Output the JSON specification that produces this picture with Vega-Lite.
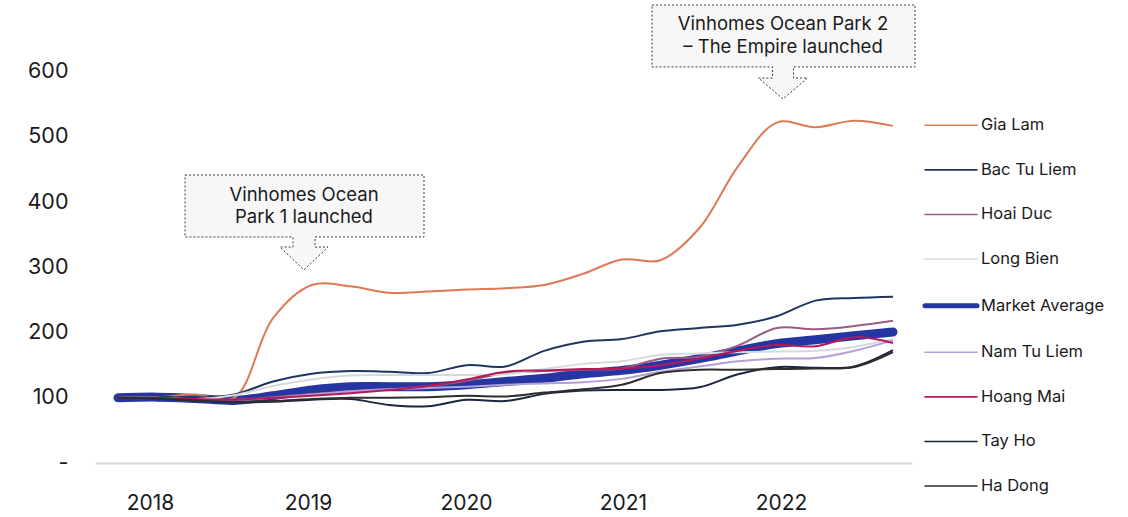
{
  "$schema": "https://vega.github.io/schema/vega-lite/v6.json",
  "width": 817,
  "height": 463,
  "autosize": {"type": "none"},
  "padding": {"left": 95, "top": 0, "right": 216, "bottom": 54},
  "background": "white",
  "config": {"view": {"stroke": null}, "font": "Inter"},
  "datasets": {
    "prices": [
      {"s":"Market Average","q":0,"v":100},{"s":"Market Average","q":1,"v":101},{"s":"Market Average","q":2,"v":99},{"s":"Market Average","q":3,"v":96},{"s":"Market Average","q":4,"v":103},{"s":"Market Average","q":5,"v":112},{"s":"Market Average","q":6,"v":117},{"s":"Market Average","q":7,"v":117},{"s":"Market Average","q":8,"v":117},{"s":"Market Average","q":9,"v":120},{"s":"Market Average","q":10,"v":125},{"s":"Market Average","q":11,"v":130},{"s":"Market Average","q":12,"v":137},{"s":"Market Average","q":13,"v":142},{"s":"Market Average","q":14,"v":150},{"s":"Market Average","q":15,"v":160},{"s":"Market Average","q":16,"v":172},{"s":"Market Average","q":17,"v":183},{"s":"Market Average","q":18,"v":189},{"s":"Market Average","q":19,"v":195},{"s":"Market Average","q":20,"v":201},
      {"s":"Gia Lam","q":0,"v":100},{"s":"Gia Lam","q":1,"v":101},{"s":"Gia Lam","q":2,"v":105},{"s":"Gia Lam","q":3,"v":100},{"s":"Gia Lam","q":4,"v":222},{"s":"Gia Lam","q":5,"v":273},{"s":"Gia Lam","q":6,"v":271},{"s":"Gia Lam","q":7,"v":261},{"s":"Gia Lam","q":8,"v":263},{"s":"Gia Lam","q":9,"v":266},{"s":"Gia Lam","q":10,"v":268},{"s":"Gia Lam","q":11,"v":273},{"s":"Gia Lam","q":12,"v":290},{"s":"Gia Lam","q":13,"v":312},{"s":"Gia Lam","q":14,"v":311},{"s":"Gia Lam","q":15,"v":360},{"s":"Gia Lam","q":16,"v":455},{"s":"Gia Lam","q":17,"v":522},{"s":"Gia Lam","q":18,"v":515},{"s":"Gia Lam","q":19,"v":525},{"s":"Gia Lam","q":20,"v":517},
      {"s":"Bac Tu Liem","q":0,"v":100},{"s":"Bac Tu Liem","q":1,"v":102},{"s":"Bac Tu Liem","q":2,"v":100},{"s":"Bac Tu Liem","q":3,"v":105},{"s":"Bac Tu Liem","q":4,"v":125},{"s":"Bac Tu Liem","q":5,"v":137},{"s":"Bac Tu Liem","q":6,"v":141},{"s":"Bac Tu Liem","q":7,"v":140},{"s":"Bac Tu Liem","q":8,"v":138},{"s":"Bac Tu Liem","q":9,"v":150},{"s":"Bac Tu Liem","q":10,"v":148},{"s":"Bac Tu Liem","q":11,"v":172},{"s":"Bac Tu Liem","q":12,"v":186},{"s":"Bac Tu Liem","q":13,"v":190},{"s":"Bac Tu Liem","q":14,"v":202},{"s":"Bac Tu Liem","q":15,"v":207},{"s":"Bac Tu Liem","q":16,"v":212},{"s":"Bac Tu Liem","q":17,"v":225},{"s":"Bac Tu Liem","q":18,"v":249},{"s":"Bac Tu Liem","q":19,"v":253},{"s":"Bac Tu Liem","q":20,"v":255},
      {"s":"Hoai Duc","q":0,"v":100},{"s":"Hoai Duc","q":1,"v":100},{"s":"Hoai Duc","q":2,"v":98},{"s":"Hoai Duc","q":3,"v":97},{"s":"Hoai Duc","q":4,"v":101},{"s":"Hoai Duc","q":5,"v":106},{"s":"Hoai Duc","q":6,"v":110},{"s":"Hoai Duc","q":7,"v":113},{"s":"Hoai Duc","q":8,"v":118},{"s":"Hoai Duc","q":9,"v":126},{"s":"Hoai Duc","q":10,"v":138},{"s":"Hoai Duc","q":11,"v":141},{"s":"Hoai Duc","q":12,"v":143},{"s":"Hoai Duc","q":13,"v":145},{"s":"Hoai Duc","q":14,"v":160},{"s":"Hoai Duc","q":15,"v":163},{"s":"Hoai Duc","q":16,"v":180},{"s":"Hoai Duc","q":17,"v":207},{"s":"Hoai Duc","q":18,"v":205},{"s":"Hoai Duc","q":19,"v":210},{"s":"Hoai Duc","q":20,"v":218},
      {"s":"Long Bien","q":0,"v":100},{"s":"Long Bien","q":1,"v":100},{"s":"Long Bien","q":2,"v":98},{"s":"Long Bien","q":3,"v":104},{"s":"Long Bien","q":4,"v":118},{"s":"Long Bien","q":5,"v":128},{"s":"Long Bien","q":6,"v":134},{"s":"Long Bien","q":7,"v":135},{"s":"Long Bien","q":8,"v":135},{"s":"Long Bien","q":9,"v":135},{"s":"Long Bien","q":10,"v":136},{"s":"Long Bien","q":11,"v":144},{"s":"Long Bien","q":12,"v":152},{"s":"Long Bien","q":13,"v":156},{"s":"Long Bien","q":14,"v":166},{"s":"Long Bien","q":15,"v":168},{"s":"Long Bien","q":16,"v":170},{"s":"Long Bien","q":17,"v":171},{"s":"Long Bien","q":18,"v":172},{"s":"Long Bien","q":19,"v":178},{"s":"Long Bien","q":20,"v":190},
      {"s":"Nam Tu Liem","q":0,"v":100},{"s":"Nam Tu Liem","q":1,"v":100},{"s":"Nam Tu Liem","q":2,"v":97},{"s":"Nam Tu Liem","q":3,"v":96},{"s":"Nam Tu Liem","q":4,"v":100},{"s":"Nam Tu Liem","q":5,"v":105},{"s":"Nam Tu Liem","q":6,"v":110},{"s":"Nam Tu Liem","q":7,"v":113},{"s":"Nam Tu Liem","q":8,"v":115},{"s":"Nam Tu Liem","q":9,"v":117},{"s":"Nam Tu Liem","q":10,"v":120},{"s":"Nam Tu Liem","q":11,"v":122},{"s":"Nam Tu Liem","q":12,"v":124},{"s":"Nam Tu Liem","q":13,"v":129},{"s":"Nam Tu Liem","q":14,"v":140},{"s":"Nam Tu Liem","q":15,"v":148},{"s":"Nam Tu Liem","q":16,"v":156},{"s":"Nam Tu Liem","q":17,"v":160},{"s":"Nam Tu Liem","q":18,"v":161},{"s":"Nam Tu Liem","q":19,"v":172},{"s":"Nam Tu Liem","q":20,"v":188},
      {"s":"Hoang Mai","q":0,"v":100},{"s":"Hoang Mai","q":1,"v":100},{"s":"Hoang Mai","q":2,"v":98},{"s":"Hoang Mai","q":3,"v":97},{"s":"Hoang Mai","q":4,"v":100},{"s":"Hoang Mai","q":5,"v":103},{"s":"Hoang Mai","q":6,"v":107},{"s":"Hoang Mai","q":7,"v":112},{"s":"Hoang Mai","q":8,"v":118},{"s":"Hoang Mai","q":9,"v":128},{"s":"Hoang Mai","q":10,"v":140},{"s":"Hoang Mai","q":11,"v":142},{"s":"Hoang Mai","q":12,"v":144},{"s":"Hoang Mai","q":13,"v":145},{"s":"Hoang Mai","q":14,"v":150},{"s":"Hoang Mai","q":15,"v":160},{"s":"Hoang Mai","q":16,"v":172},{"s":"Hoang Mai","q":17,"v":181},{"s":"Hoang Mai","q":18,"v":179},{"s":"Hoang Mai","q":19,"v":193},{"s":"Hoang Mai","q":20,"v":184},
      {"s":"Tay Ho","q":0,"v":100},{"s":"Tay Ho","q":1,"v":99},{"s":"Tay Ho","q":2,"v":96},{"s":"Tay Ho","q":3,"v":93},{"s":"Tay Ho","q":4,"v":94},{"s":"Tay Ho","q":5,"v":97},{"s":"Tay Ho","q":6,"v":98},{"s":"Tay Ho","q":7,"v":89},{"s":"Tay Ho","q":8,"v":87},{"s":"Tay Ho","q":9,"v":97},{"s":"Tay Ho","q":10,"v":95},{"s":"Tay Ho","q":11,"v":106},{"s":"Tay Ho","q":12,"v":111},{"s":"Tay Ho","q":13,"v":112},{"s":"Tay Ho","q":14,"v":112},{"s":"Tay Ho","q":15,"v":116},{"s":"Tay Ho","q":16,"v":136},{"s":"Tay Ho","q":17,"v":147},{"s":"Tay Ho","q":18,"v":146},{"s":"Tay Ho","q":19,"v":148},{"s":"Tay Ho","q":20,"v":173},
      {"s":"Ha Dong","q":0,"v":100},{"s":"Ha Dong","q":1,"v":99},{"s":"Ha Dong","q":2,"v":96},{"s":"Ha Dong","q":3,"v":94},{"s":"Ha Dong","q":4,"v":95},{"s":"Ha Dong","q":5,"v":98},{"s":"Ha Dong","q":6,"v":100},{"s":"Ha Dong","q":7,"v":100},{"s":"Ha Dong","q":8,"v":101},{"s":"Ha Dong","q":9,"v":103},{"s":"Ha Dong","q":10,"v":102},{"s":"Ha Dong","q":11,"v":108},{"s":"Ha Dong","q":12,"v":113},{"s":"Ha Dong","q":13,"v":120},{"s":"Ha Dong","q":14,"v":138},{"s":"Ha Dong","q":15,"v":143},{"s":"Ha Dong","q":16,"v":143},{"s":"Ha Dong","q":17,"v":144},{"s":"Ha Dong","q":18,"v":145},{"s":"Ha Dong","q":19,"v":147},{"s":"Ha Dong","q":20,"v":170}
    ],
    "callouts": [
      {"id":"a1","k":1,"x":1.729,"y":441.6},{"id":"a1","k":2,"x":7.897,"y":441.6},{"id":"a1","k":3,"x":7.897,"y":346.6},{"id":"a1","k":4,"x":5.084,"y":346.6},{"id":"a1","k":5,"x":5.084,"y":331.2},{"id":"a1","k":6,"x":5.419,"y":331.2},{"id":"a1","k":7,"x":4.8,"y":296.0},{"id":"a1","k":8,"x":4.181,"y":331.2},{"id":"a1","k":9,"x":4.516,"y":331.2},{"id":"a1","k":10,"x":4.516,"y":346.6},{"id":"a1","k":11,"x":1.729,"y":346.6},{"id":"a1","k":12,"x":1.729,"y":441.6},
      {"id":"a2","k":1,"x":13.781,"y":702.3},{"id":"a2","k":2,"x":20.568,"y":702.3},{"id":"a2","k":3,"x":20.568,"y":607.3},{"id":"a2","k":4,"x":17.432,"y":607.3},{"id":"a2","k":5,"x":17.432,"y":590.4},{"id":"a2","k":6,"x":17.794,"y":590.4},{"id":"a2","k":7,"x":17.161,"y":558.2},{"id":"a2","k":8,"x":16.529,"y":590.4},{"id":"a2","k":9,"x":16.89,"y":590.4},{"id":"a2","k":10,"x":16.89,"y":607.3},{"id":"a2","k":11,"x":13.781,"y":607.3},{"id":"a2","k":12,"x":13.781,"y":702.3}
    ],
    "notes": [
      {"t":"Vinhomes Ocean","x":4.8,"y":411},
      {"t":"Park 1 launched","x":4.8,"y":377.2},
      {"t":"Vinhomes Ocean Park 2","x":17.161,"y":673.2},
      {"t":"– The Empire launched","x":17.161,"y":638}
    ]
  },
  "layer": [
    {
      "data": {"name": "callouts"},
      "mark": {"type": "line", "fill": "#f7f7f7", "stroke": "#3a3a3a", "strokeWidth": 1, "strokeDash": [2, 2], "interpolate": "linear"},
      "encoding": {
        "x": {"field": "x", "type": "quantitative", "scale": {"domain": [-0.5935, 20.49], "nice": false, "zero": false},
          "axis": {"values": [0.826, 4.903, 8.98, 13.03, 17.11], "labelExpr": "['2018','2019','2020','2021','2022'][round((datum.value - 0.826) / 4.07)]", "title": null, "grid": false, "ticks": false, "domainColor": "#d9d9d9", "domainWidth": 2, "labelFontSize": 21, "labelColor": "#1a1a1a", "labelPadding": 29, "labelFont": "Inter"}},
        "y": {"field": "y", "type": "quantitative", "scale": {"domain": [0, 710], "nice": false},
          "axis": {"values": [0, 100, 200, 300, 400, 500, 600], "labelExpr": "datum.value === 0 ? '-\u00a0\u00a0' : datum.label", "title": null, "grid": false, "ticks": false, "domain": false, "labelFontSize": 21.5, "labelColor": "#1a1a1a", "labelPadding": 27, "labelFont": "Inter"}},
        "order": {"field": "k", "type": "quantitative"},
        "detail": {"field": "id", "type": "nominal"}
      }
    },
    {
      "data": {"name": "notes"},
      "mark": {"type": "text", "fontSize": 18.5, "color": "#1a1a1a", "align": "center", "baseline": "middle", "font": "Inter"},
      "encoding": {
        "x": {"field": "x", "type": "quantitative"},
        "y": {"field": "y", "type": "quantitative"},
        "text": {"field": "t", "type": "nominal"}
      }
    },
    {
      "data": {"name": "prices"},
      "transform": [{"filter": "datum.s === 'Market Average'"}],
      "mark": {"type": "line", "strokeWidth": 9, "strokeCap": "round", "strokeJoin": "round", "interpolate": "catmull-rom"},
      "encoding": {
        "x": {"field": "q", "type": "quantitative"},
        "y": {"field": "v", "type": "quantitative"},
        "color": {"field": "s", "type": "nominal",
          "scale": {"domain": ["Gia Lam", "Bac Tu Liem", "Hoai Duc", "Long Bien", "Market Average", "Nam Tu Liem", "Hoang Mai", "Tay Ho", "Ha Dong"],
                    "range": ["#dd7a55", "#1f3560", "#9c5a82", "#d5d9de", "#2536a3", "#b49fd6", "#b3195a", "#1b2640", "#2e2e2e"]},
          "legend": {"title": null, "orient": "none", "legendX": 830, "legendY": 117, "padding": 0, "symbolType": "stroke", "symbolSize": 2704, "labelFontSize": 16.5, "labelColor": "#1a1a1a", "labelFont": "Inter", "labelOffset": 4, "rowPadding": 27.6,
            "encode": {
              "symbols": {"update": {"strokeWidth": {"signal": "datum.value === 'Market Average' ? 5 : 1.6"}, "strokeCap": {"value": "round"}, "size": {"value": 2704}, "x": {"value": 26}}},
              "labels": {"update": {"x": {"value": 56}}}
            }}}
      }
    },
    {
      "data": {"name": "prices"},
      "transform": [{"filter": "datum.s !== 'Market Average'"}],
      "mark": {"type": "line", "strokeWidth": 2, "interpolate": "catmull-rom"},
      "encoding": {
        "x": {"field": "q", "type": "quantitative"},
        "y": {"field": "v", "type": "quantitative"},
        "color": {"field": "s", "type": "nominal"}
      }
    }
  ]
}
